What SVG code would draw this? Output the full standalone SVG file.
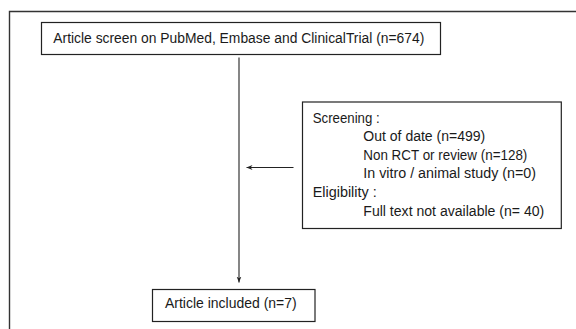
<svg xmlns="http://www.w3.org/2000/svg" width="576" height="329" viewBox="0 0 576 329">
<style>
.box{fill:#fff;stroke:#222;stroke-width:1.2}
.frame{fill:none;stroke:#333;stroke-width:1.4}
.t{font-family:"Liberation Sans",Arial,sans-serif;font-size:14px;fill:#1a1a1a}
.conn{fill:none;stroke:#222;stroke-width:1.1}
</style>
<defs>
<marker id="ah" viewBox="0 0 10 10" refX="10" refY="5" markerWidth="6" markerHeight="6" markerUnits="userSpaceOnUse" orient="auto">
<path d="M0,1 L10,5 L0,9 L3,5 Z" fill="#222"/>
</marker>
</defs>
<rect width="576" height="329" fill="#fff"/>
<path class="frame" d="M9.5,340 V11.5 H590"/>
<g id="connectors">
<line class="conn" x1="239" y1="57.5" x2="239" y2="282.5" marker-end="url(#ah)"/>
<line class="conn" x1="293.5" y1="167.5" x2="246.5" y2="167.5" marker-end="url(#ah)"/>
</g>
<g id="n_search">
<rect class="box" x="41.5" y="22.5" width="399" height="32"/>
<text class="t" x="53.3" y="42.5" textLength="371" lengthAdjust="spacingAndGlyphs">Article screen on PubMed, Embase and ClinicalTrial (n=674)</text>
</g>
<g id="n_excluded">
<rect class="box" x="302.5" y="102" width="258.8" height="126.5"/>
<text class="t" x="312.7" y="122.5" textLength="67" lengthAdjust="spacingAndGlyphs">Screening :</text>
<text class="t" x="363.3" y="141" textLength="122" lengthAdjust="spacingAndGlyphs">Out of date (n=499)</text>
<text class="t" x="363.3" y="159.5" textLength="164" lengthAdjust="spacingAndGlyphs">Non RCT or review (n=128)</text>
<text class="t" x="363.3" y="178" textLength="172.7" lengthAdjust="spacingAndGlyphs">In vitro / animal study (n=0)</text>
<text class="t" x="312.7" y="196.7" textLength="64" lengthAdjust="spacingAndGlyphs">Eligibility :</text>
<text class="t" x="363.3" y="215.5" textLength="181" lengthAdjust="spacingAndGlyphs">Full text not available (n= 40)</text>
</g>
<g id="n_included">
<rect class="box" x="152.5" y="289.5" width="162.5" height="32"/>
<text class="t" x="165" y="307.5" textLength="131.7" lengthAdjust="spacingAndGlyphs">Article included (n=7)</text>
</g>
</svg>
